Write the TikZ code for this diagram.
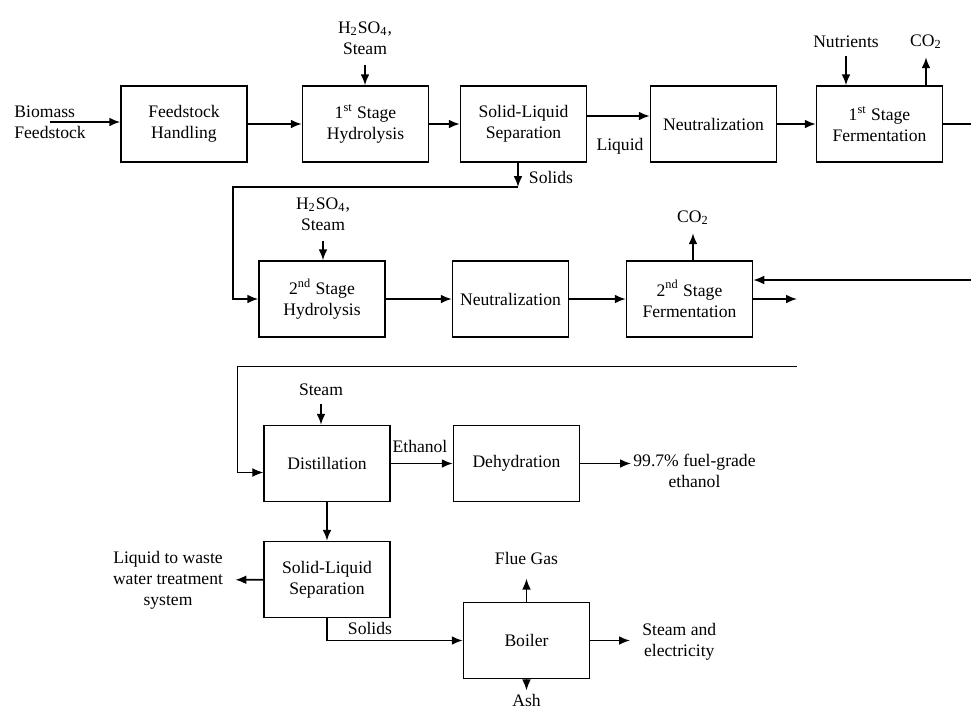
\documentclass[tikz,border=0pt]{standalone}
\usepackage{fontspec}
\setmainfont{Liberation Serif}
\usetikzlibrary{arrows.meta,positioning,calc}

\begin{document}
\begin{tikzpicture}[x=0.5pt,y=-0.5pt,
        box/.style={draw, align=center, font=\fontsize{8.8}{10.5}\selectfont,
                    minimum width=63pt, minimum height=38pt, line width=0.75pt, inner sep=1pt},
        lbl/.style={align=center, font=\fontsize{8.8}{10.5}\selectfont, inner sep=1pt},
        arrow/.style={-{Latex[length=5.5pt,width=4.4pt]}, line width=0.8pt},
        line/.style={line width=0.8pt}
    ]
        \useasboundingbox (0,0) rectangle (971,709);

        % first row
        \node[box] (fh)    at (184,124)   {Feedstock\\Handling};
        \node[box] (hyd1)  at (365.5,124) {1\textsuperscript{st} Stage\\Hydrolysis};
        \node[box] (sl1)   at (523.5,124) {Solid-Liquid\\Separation};
        \node[box] (neut1) at (713.5,124) {Neutralization};
        \node[box] (ferm1) at (879.5,124) {1\textsuperscript{st} Stage\\Fermentation};

        \node[lbl, align=left, anchor=west] (bio) at (12,122) {Biomass\\Feedstock};
        \node[lbl] (acid1)   at (365,38)  {H\textsubscript{2}SO\textsubscript{4},\\Steam};
        \node[lbl] (liqlbl)  at (620,146) {Liquid};
        \node[lbl] (sol1lbl) at (551,177) {Solids};
        \node[lbl] (nutr)    at (846,42)  {Nutrients};
        \node[lbl] (co2a)    at (926,42)  {CO\textsubscript{2}};

        \coordinate (bioin) at (50,122);
        \coordinate (f1out) at (971,124);
        \coordinate (sol1)  at (518,187);
        \coordinate (loop1) at (233,187);

        \draw[arrow] (bioin) -- (bioin -| fh.west);
        \draw[arrow] (fh) -- (hyd1); \draw[arrow] (hyd1) -- (sl1);
        \draw[arrow] ([yshift=4pt]sl1.east) -- ([yshift=4pt]sl1.east -| neut1.west);
        \draw[arrow] (neut1) -- (ferm1); \draw[line] (ferm1) -- (f1out);
        \draw[arrow, shorten <=4pt] (acid1) -- (acid1 |- hyd1.north);
        \draw[arrow, shorten <=3pt] (nutr) -- (nutr |- ferm1.north);
        \draw[arrow, shorten >=3pt] (co2a |- ferm1.north) -- (co2a);
        \draw[arrow] (sl1.south -| sol1) -- (sol1);

        % second row
        \node[box] (hyd2)  at (322,299)   {2\textsuperscript{nd} Stage\\Hydrolysis};
        \node[box, minimum width=58pt] (neut2) at (510.5,299) {Neutralization};
        \node[box] (ferm2) at (689.5,299) {2\textsuperscript{nd} Stage\\Fermentation};

        \node[lbl] (acid2) at (323,214) {H\textsubscript{2}SO\textsubscript{4},\\Steam};
        \node[lbl] (co2b)  at (693,218) {CO\textsubscript{2}};

        \coordinate (rec)   at (971,280);
        \coordinate (f2out) at (797,299);

        \draw[arrow] (sol1) -- (loop1) |- (hyd2.west);
        \draw[arrow, shorten <=4pt] (acid2) -- (acid2 |- hyd2.north);
        \draw[arrow] (hyd2) -- (neut2); \draw[arrow] (neut2) -- (ferm2);
        \draw[arrow, shorten >=3pt] (co2b |- ferm2.north) -- (co2b);
        \draw[arrow] (rec) -- (rec -| ferm2.east);
        \draw[arrow] (ferm2.east) -- (f2out);

        % distillation and boiler
        \node[box] (dist)   at (327,463.5)  {Distillation};
        \node[box] (dehyd)  at (516.5,463.5) {Dehydration};
        \node[box] (sl2)    at (327,579.5)  {Solid-Liquid\\Separation};
        \node[box] (boiler) at (526.5,640.5) {Boiler};

        \node[lbl] (stm)     at (321,390) {Steam};
        \node[lbl] (eth)     at (420,446) {Ethanol};
        \node[lbl, anchor=west] (prod) at (631,471) {99.7\% fuel-grade\\ethanol};
        \node[lbl] (waste)   at (168,580) {Liquid to waste\\water treatment\\system};
        \node[lbl] (sol2lbl) at (370,628) {Solids};
        \node[lbl] (flue)    at (526.5,558) {Flue Gas};
        \node[lbl] (ash)     at (526.5,700) {Ash};
        \node[lbl, anchor=west] (power) at (640,642) {Steam and\\electricity};

        \coordinate (brk)   at (797,366);
        \coordinate (loop2) at (237,366);

        \draw[arrow, line width=0.5pt] (brk) -- (loop2) |- ([yshift=-4.5pt]dist.west);
        \draw[arrow, shorten <=3pt] (stm) -- (stm |- dist.north);
        \draw[arrow] (dist) -- (dehyd);
        \draw[arrow] (dehyd.east) -- (dehyd.east -| prod.west);
        \draw[arrow] (dist) -- (sl2);
        \draw[arrow, shorten >=5pt] (sl2) -- (waste);
        \draw[arrow] (sl2.south) |- (boiler.west);
        \draw[arrow, shorten >=6pt] (boiler) -- (flue);
        \draw[arrow, shorten >=0.5pt] (boiler) -- (ash);
        \draw[arrow, shorten >=5pt] (boiler.east) -- (boiler.east -| power.west);
\end{tikzpicture}
\end{document}
